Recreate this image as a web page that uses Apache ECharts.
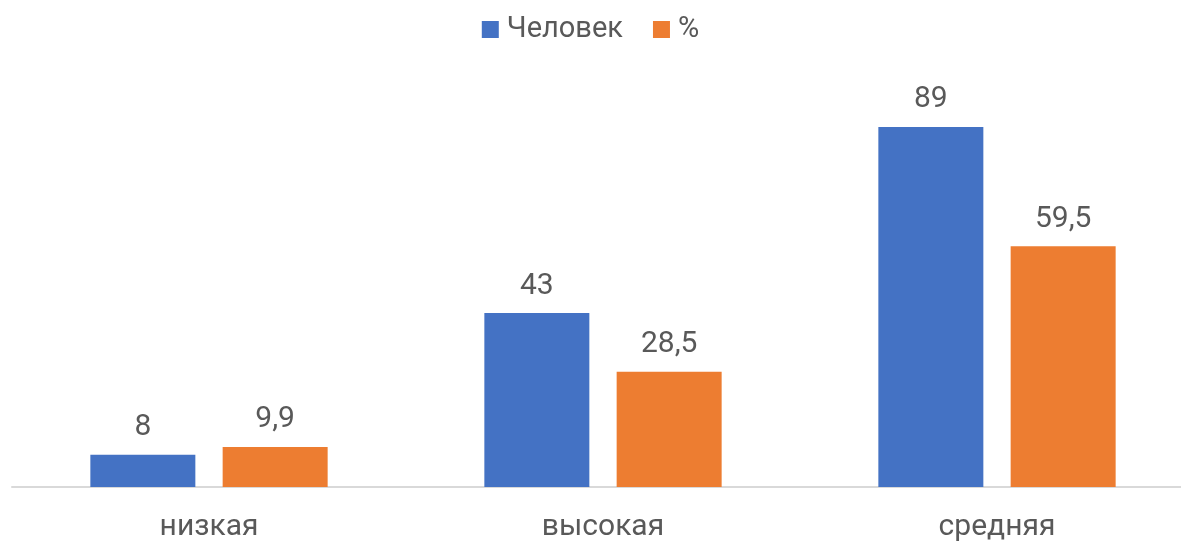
<!DOCTYPE html>
<html>
<head>
<meta charset="utf-8">
<script src="https://cdn.jsdelivr.net/npm/echarts@6/dist/echarts.min.js"></script>
<style>
html,body{margin:0;padding:0;background:#fff;}
#chart{width:1181px;height:542px;}
</style>
</head>
<body>
<div id="chart"></div>
<script>
var categories = ['низкая', 'высокая', 'средняя'];
var seriesNames = ['Человек', '%'];
var people = [8, 43, 89];
var percent = [9.9, 28.5, 59.5];

var FONT = 'Roboto, "Liberation Sans", sans-serif';
var TEXT = '#595959';

var chart = echarts.init(document.getElementById('chart'));
var labelCfg = {
  show: true,
  position: 'top',
  distance: 12,
  color: TEXT,
  fontFamily: FONT,
  fontSize: 30,
  formatter: function (p) { return String(p.value).replace('.', ','); }
};
chart.setOption({
  animation: false,
  color: ['#4472C4', '#ED7D31'],
  legend: {
    top: 10,
    left: 'center',
    itemWidth: 17,
    itemHeight: 17,
    itemGap: 30,
    icon: 'rect',
    textStyle: { color: TEXT, fontFamily: FONT, fontSize: 29, padding: [0, 0, 0, 3] },
    data: seriesNames
  },
  grid: { left: 12, width: 1182, top: 82.5, bottom: 55, containLabel: false, outerBoundsMode: 'none' },
  xAxis: {
    type: 'category',
    data: categories,
    axisLine: { lineStyle: { color: '#D9D9D9', width: 2 } },
    axisTick: { show: false },
    axisLabel: { color: TEXT, fontFamily: FONT, fontSize: 30, margin: 25 }
  },
  yAxis: {
    type: 'value',
    min: 0,
    max: 100,
    show: false,
    splitLine: { show: false }
  },
  series: [
    {
      name: seriesNames[0],
      type: 'bar',
      data: people,
      barWidth: 105,
      barGap: '26%',
      label: labelCfg
    },
    {
      name: seriesNames[1],
      type: 'bar',
      data: percent,
      barWidth: 105,
      barGap: '26%',
      label: labelCfg
    }
  ]
});
</script>
</body>
</html>
